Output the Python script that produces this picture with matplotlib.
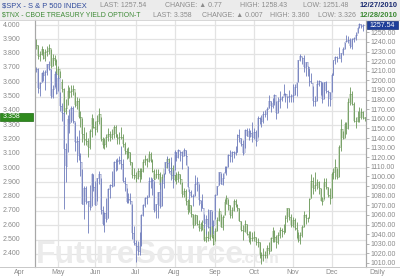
import numpy as np
import pandas as pd
import matplotlib
matplotlib.use("Agg")
import matplotlib.pyplot as plt
from matplotlib.transforms import blended_transform_factory as btf
from matplotlib.patches import Rectangle
from matplotlib.lines import Line2D

# ---------------- data ----------------
holidays = ["2010-05-31", "2010-07-05", "2010-09-06", "2010-11-25", "2010-12-24"]
all_days = pd.bdate_range("2010-04-15", "2010-12-28")
days = all_days[~all_days.isin(pd.to_datetime(holidays))]

spx_close = [
    1211.67, 1192.13, 1197.52, 1207.17, 1205.94, 1208.67, 1217.28, 1212.05, 1183.71, 1191.36, 1206.78, 1186.69,
    1202.26, 1173.60, 1165.90, 1128.15, 1110.88, 1159.73, 1155.79, 1171.67, 1157.44, 1135.68, 1136.94, 1120.80, 1115.05, 1071.59, 1087.69, 1073.65, 1074.03, 1067.95, 1103.06, 1089.41,
    1070.71, 1098.38, 1102.83, 1064.88, 1050.47, 1062.00, 1055.69, 1086.84, 1091.60, 1089.63, 1115.23, 1114.61, 1116.04, 1117.51, 1113.20, 1095.31, 1092.04, 1073.69, 1076.76, 1074.57, 1041.24, 1030.71,
    1027.37, 1022.58, 1028.06, 1060.27, 1070.25, 1077.96, 1078.75, 1095.34, 1095.17, 1096.48, 1064.88, 1071.25, 1083.48, 1069.59, 1093.67, 1102.66, 1115.01, 1113.84, 1106.13, 1101.53, 1101.60,
    1125.86, 1120.46, 1127.24, 1125.81, 1121.64, 1127.79, 1121.06, 1089.47, 1083.61, 1079.25, 1079.38, 1092.54, 1094.16, 1075.63, 1071.69, 1067.36, 1051.87, 1055.33, 1047.22, 1064.59, 1048.92, 1049.33,
    1080.29, 1090.10, 1104.51, 1091.84, 1098.87, 1104.18, 1109.55, 1121.90, 1121.10, 1125.07, 1124.66, 1125.59, 1142.71, 1139.78, 1134.28, 1124.83, 1148.67, 1142.16, 1147.70, 1144.73, 1141.20,
    1146.24, 1137.03, 1160.75, 1159.97, 1158.06, 1165.15, 1165.32, 1169.77, 1178.10, 1173.81, 1176.19, 1184.71, 1165.90, 1178.17, 1180.26, 1183.08, 1185.62, 1185.64, 1182.45, 1183.78, 1183.26,
    1184.38, 1193.57, 1197.96, 1221.06, 1225.85, 1223.25, 1213.40, 1218.71, 1213.54, 1199.21, 1197.75, 1178.34, 1178.59, 1196.69, 1199.73, 1197.84, 1180.73, 1198.35, 1189.40, 1187.76, 1180.55,
    1206.07, 1221.53, 1224.71, 1223.12, 1223.75, 1228.28, 1233.00, 1240.40, 1240.46, 1241.59, 1235.23, 1242.87, 1243.91, 1247.08, 1254.60, 1258.84, 1256.77, 1257.54,
]
spx_high = [
    1213.92, 1213.27, 1197.87, 1208.50, 1210.99, 1210.27, 1217.28, 1219.80, 1212.07, 1195.05, 1209.36, 1207.66,
    1205.13, 1187.51, 1175.95, 1167.58, 1135.13, 1163.64, 1170.48, 1173.57, 1173.57, 1157.19, 1141.82, 1148.66, 1124.27, 1107.34, 1089.95, 1090.16, 1074.03, 1090.75, 1103.52, 1103.06,
    1094.77, 1098.38, 1105.67, 1097.90, 1069.31, 1063.15, 1077.74, 1087.85, 1092.25, 1105.87, 1115.59, 1117.72, 1118.74, 1120.91, 1131.23, 1118.50, 1099.64, 1088.16, 1082.60, 1082.60, 1071.00, 1048.08,
    1033.58, 1032.95, 1042.50, 1060.60, 1071.25, 1078.16, 1080.78, 1099.08, 1099.46, 1098.43, 1094.90, 1071.25, 1083.94, 1094.25, 1097.50, 1103.11, 1115.01, 1120.95, 1114.66, 1119.95, 1106.44,
    1127.30, 1125.44, 1128.75, 1126.56, 1126.56, 1129.24, 1127.30, 1111.37, 1086.72, 1086.25, 1082.22, 1101.73, 1099.77, 1092.46, 1075.63, 1081.58, 1061.14, 1059.51, 1065.89, 1065.21, 1064.29, 1055.14,
    1081.30, 1090.10, 1105.10, 1103.11, 1103.26, 1110.88, 1110.57, 1123.87, 1127.36, 1126.46, 1126.14, 1131.47, 1144.38, 1148.90, 1139.78, 1138.30, 1148.90, 1149.92, 1150.00, 1148.63, 1157.16,
    1150.30, 1148.16, 1162.76, 1162.33, 1163.87, 1167.73, 1168.68, 1172.58, 1184.38, 1178.10, 1181.20, 1185.53, 1178.96, 1182.94, 1189.43, 1183.93, 1196.14, 1187.11, 1183.24, 1189.53, 1185.53,
    1195.81, 1195.88, 1198.30, 1221.25, 1227.08, 1224.57, 1226.84, 1218.75, 1215.45, 1213.04, 1207.43, 1194.08, 1183.56, 1200.29, 1200.57, 1198.94, 1197.84, 1198.41, 1198.94, 1189.80, 1187.40,
    1207.61, 1221.53, 1225.57, 1225.73, 1235.05, 1228.93, 1234.92, 1240.40, 1246.73, 1246.59, 1244.25, 1243.75, 1245.09, 1250.07, 1255.99, 1259.39, 1258.59, 1258.43,
]
spx_low = [
    1208.50, 1186.77, 1183.68, 1197.87, 1198.85, 1190.19, 1205.10, 1211.07, 1181.62, 1181.81, 1193.38, 1186.32,
    1188.58, 1168.12, 1157.79, 1065.79, 1094.15, 1125.12, 1145.11, 1156.57, 1156.14, 1126.14, 1114.63, 1117.20, 1100.70, 1071.58, 1055.90, 1070.84, 1040.78, 1065.52, 1069.21, 1084.72,
    1069.89, 1074.04, 1091.81, 1060.59, 1049.56, 1042.17, 1052.25, 1056.74, 1077.47, 1089.03, 1089.79, 1105.87, 1107.13, 1113.36, 1108.24, 1094.18, 1085.31, 1072.03, 1071.99, 1071.45, 1035.18, 1028.33,
    1010.91, 1018.35, 1018.35, 1028.15, 1058.35, 1068.12, 1070.98, 1078.75, 1087.68, 1080.53, 1063.32, 1056.88, 1056.88, 1067.49, 1069.54, 1088.01, 1102.66, 1109.78, 1103.28, 1096.56, 1088.01,
    1107.17, 1116.11, 1119.46, 1116.12, 1107.40, 1120.91, 1111.58, 1088.56, 1076.69, 1079.00, 1069.62, 1079.38, 1084.56, 1070.03, 1063.91, 1067.08, 1046.68, 1039.70, 1045.94, 1039.83, 1048.79, 1039.70,
    1056.16, 1080.39, 1091.15, 1091.84, 1091.15, 1103.92, 1101.02, 1109.60, 1115.44, 1114.63, 1119.69, 1122.43, 1125.59, 1136.22, 1131.58, 1122.79, 1129.66, 1141.67, 1138.14, 1140.63, 1136.08,
    1139.42, 1131.87, 1140.68, 1154.34, 1151.41, 1155.71, 1162.02, 1158.66, 1171.32, 1166.74, 1171.03, 1174.55, 1159.71, 1166.00, 1171.17, 1178.99, 1184.74, 1177.65, 1171.01, 1177.10, 1177.65,
    1177.65, 1184.38, 1183.56, 1198.34, 1220.29, 1217.31, 1208.94, 1204.49, 1204.37, 1194.08, 1197.74, 1173.00, 1173.21, 1178.59, 1194.08, 1184.29, 1176.91, 1180.74, 1186.35, 1173.64, 1173.00,
    1187.40, 1206.07, 1216.82, 1218.89, 1223.25, 1219.50, 1226.36, 1232.58, 1240.34, 1238.49, 1234.11, 1232.85, 1239.87, 1241.51, 1249.19, 1254.62, 1254.05, 1251.48,
]

tnx_close = [
    3.86, 3.78, 3.80, 3.83, 3.77, 3.81, 3.82, 3.84, 3.71, 3.77, 3.75, 3.66,
    3.69, 3.60, 3.55, 3.40, 3.42, 3.54, 3.53, 3.54, 3.55, 3.44, 3.47, 3.36, 3.36, 3.24, 3.20, 3.19, 3.15, 3.26, 3.35, 3.29,
    3.27, 3.33, 3.38, 3.20, 3.16, 3.17, 3.22, 3.24, 3.22, 3.24, 3.29, 3.24, 3.21, 3.22, 3.22, 3.17, 3.12, 3.10, 3.11, 3.04, 2.95, 2.95,
    2.93, 2.98, 2.94, 2.98, 3.04, 3.06, 3.05, 3.10, 3.05, 2.98, 2.92, 2.96, 2.96, 2.88, 2.94, 3.00, 3.01, 3.06, 3.00, 3.00, 2.92,
    2.96, 2.92, 2.96, 2.92, 2.82, 2.84, 2.77, 2.71, 2.74, 2.68, 2.60, 2.67, 2.61, 2.58, 2.61, 2.60, 2.50, 2.52, 2.51, 2.65, 2.52, 2.47,
    2.56, 2.64, 2.70, 2.59, 2.66, 2.76, 2.79, 2.74, 2.67, 2.71, 2.77, 2.74, 2.72, 2.63, 2.57, 2.56, 2.61, 2.54, 2.51, 2.51, 2.51,
    2.52, 2.48, 2.48, 2.39, 2.39, 2.39, 2.39, 2.44, 2.42, 2.51, 2.56, 2.52, 2.48, 2.53, 2.57, 2.56, 2.55, 2.65, 2.72, 2.66, 2.60,
    2.64, 2.58, 2.57, 2.50, 2.53, 2.59, 2.67, 2.65, 2.65, 2.78, 2.91, 2.86, 2.88, 2.90, 2.86, 2.77, 2.77, 2.90, 2.87, 2.81, 2.79,
    2.96, 2.97, 3.01, 2.94, 3.15, 3.27, 3.21, 3.31, 3.28, 3.46, 3.52, 3.45, 3.33, 3.33, 3.36, 3.36, 3.39, 3.35, 3.358,
]
tnx_high = [
    3.90, 3.86, 3.82, 3.85, 3.83, 3.83, 3.85, 3.87, 3.83, 3.80, 3.79, 3.76,
    3.71, 3.68, 3.62, 3.56, 3.48, 3.58, 3.57, 3.58, 3.58, 3.53, 3.50, 3.49, 3.40, 3.35, 3.29, 3.25, 3.21, 3.27, 3.38, 3.35,
    3.33, 3.37, 3.42, 3.36, 3.22, 3.21, 3.24, 3.28, 3.26, 3.27, 3.30, 3.30, 3.24, 3.25, 3.29, 3.24, 3.18, 3.14, 3.15, 3.11, 3.04, 3.00,
    2.97, 3.00, 3.00, 3.00, 3.06, 3.09, 3.07, 3.12, 3.11, 3.06, 2.99, 2.99, 2.99, 2.97, 2.96, 3.02, 3.04, 3.08, 3.07, 3.04, 3.02,
    2.99, 2.97, 2.98, 2.96, 2.90, 2.86, 2.85, 2.78, 2.78, 2.74, 2.68, 2.68, 2.67, 2.64, 2.62, 2.64, 2.58, 2.56, 2.56, 2.66, 2.63, 2.54,
    2.58, 2.66, 2.72, 2.68, 2.67, 2.78, 2.81, 2.78, 2.74, 2.73, 2.78, 2.78, 2.75, 2.72, 2.63, 2.60, 2.64, 2.61, 2.56, 2.56, 2.55,
    2.56, 2.52, 2.51, 2.48, 2.41, 2.44, 2.42, 2.46, 2.48, 2.52, 2.59, 2.57, 2.53, 2.55, 2.59, 2.58, 2.61, 2.67, 2.72, 2.72, 2.68,
    2.66, 2.65, 2.62, 2.55, 2.55, 2.60, 2.70, 2.68, 2.66, 2.79, 2.96, 2.94, 2.97, 2.92, 2.91, 2.86, 2.80, 2.93, 2.93, 2.87, 2.86,
    2.97, 3.00, 3.06, 3.00, 3.16, 3.34, 3.26, 3.32, 3.32, 3.49, 3.57, 3.54, 3.46, 3.36, 3.40, 3.43, 3.42, 3.40, 3.360,
]
tnx_low = [
    3.83, 3.76, 3.75, 3.79, 3.76, 3.75, 3.78, 3.80, 3.70, 3.71, 3.72, 3.65,
    3.63, 3.59, 3.53, 3.26, 3.38, 3.44, 3.49, 3.50, 3.51, 3.43, 3.41, 3.35, 3.29, 3.18, 3.16, 3.16, 3.08, 3.13, 3.22, 3.28,
    3.23, 3.25, 3.31, 3.19, 3.14, 3.13, 3.15, 3.19, 3.19, 3.20, 3.21, 3.22, 3.17, 3.17, 3.20, 3.15, 3.10, 3.06, 3.07, 3.02, 2.93, 2.92,
    2.90, 2.92, 2.90, 2.92, 2.97, 3.02, 3.01, 3.04, 3.04, 2.97, 2.90, 2.93, 2.92, 2.85, 2.87, 2.94, 2.98, 3.00, 2.99, 2.97, 2.90,
    2.91, 2.89, 2.90, 2.89, 2.80, 2.80, 2.74, 2.68, 2.69, 2.66, 2.58, 2.60, 2.60, 2.56, 2.56, 2.57, 2.49, 2.48, 2.49, 2.50, 2.51, 2.46,
    2.49, 2.56, 2.63, 2.59, 2.57, 2.67, 2.75, 2.71, 2.65, 2.65, 2.70, 2.73, 2.70, 2.63, 2.56, 2.50, 2.55, 2.53, 2.48, 2.47, 2.49,
    2.49, 2.46, 2.45, 2.37, 2.33, 2.35, 2.37, 2.37, 2.40, 2.42, 2.48, 2.48, 2.44, 2.47, 2.51, 2.52, 2.54, 2.55, 2.62, 2.64, 2.59,
    2.59, 2.57, 2.51, 2.48, 2.47, 2.52, 2.59, 2.61, 2.62, 2.65, 2.79, 2.82, 2.84, 2.85, 2.82, 2.77, 2.74, 2.78, 2.85, 2.80, 2.75,
    2.79, 2.92, 2.92, 2.92, 2.94, 3.12, 3.20, 3.21, 3.24, 3.27, 3.44, 3.44, 3.32, 3.28, 3.32, 3.32, 3.34, 3.34, 3.326,
]

month_labels = ["Apr", "May", "Jun", "Jul", "Aug", "Sep", "Oct", "Nov", "Dec"]
month_starts = ["2010-04-01", "2010-05-03", "2010-06-01", "2010-07-01", "2010-08-02",
                "2010-09-01", "2010-10-01", "2010-11-01", "2010-12-01"]
tnx_ticks = [2.4, 2.5, 2.6, 2.7, 2.8, 2.9, 3.0, 3.1, 3.2, 3.3, 3.4, 3.5, 3.6, 3.7, 3.8, 3.9, 4.0]
spx_ticks = list(range(1010, 1251, 10))

spx_header = ["$SPX - S & P 500 INDEX", "LAST: 1257.54", "CHANGE: \u25b2 0.77", "HIGH: 1258.43", "LOW: 1251.48", "12/27/2010"]
tnx_header = ["$TNX - CBOE TREASURY YIELD OPTION-T", "LAST: 3.358", "CHANGE: \u25b2 0.007", "HIGH: 3.360", "LOW: 3.326", "12/28/2010"]
spx_last = 1257.54
tnx_last = 3.358

# ---------------- figure ----------------
W, H = 400, 277
FAM = ["Liberation Sans", "DejaVu Sans"]
plt.rcParams["font.family"] = FAM
fig = plt.figure(figsize=(W / 100, H / 100), dpi=100)
fig.patch.set_facecolor("white")

def fx(px):
    return px / W

def fy(py):
    return 1 - py / H

L, R, T, B = 35, 366, 20, 267
ax = fig.add_axes([fx(L), fy(B), fx(R) - fx(L), fy(T) - fy(B)])
ax.set_facecolor("none")
ax2 = ax.twinx()

n_spx = len(spx_close)
n_tnx = len(tnx_close)
x_spx = np.arange(n_spx)
x_tnx = np.arange(n_tnx)
ax.set_xlim(-0.6, 178.6)
ax.set_ylim(2.308, 4.035)
ax2.set_ylim(1005.8, 1262.8)

# grid
ax.set_yticks(tnx_ticks)
ax.yaxis.set_ticklabels([])
ax.tick_params(axis="y", length=0)
grid_c = "#e3e3e3"
for v in tnx_ticks:
    ax.axhline(v, color=grid_c, lw=0.9, zorder=0.5)
start_idx = [int(np.searchsorted(days, pd.Timestamp(d))) - (9 if i == 0 else 0) for i, d in enumerate(month_starts)]
for i in start_idx[1:]:
    ax.axvline(i, color=grid_c, lw=0.9, zorder=0.5)
ax.set_xticks([])
for s in ["top", "bottom"]:
    ax.spines[s].set_visible(False)
    ax2.spines[s].set_visible(False)
for a in (ax, ax2):
    a.spines["left"].set_color("#a8a8a8")
    a.spines["right"].set_color("#a8a8a8")
    a.spines["left"].set_linewidth(0.8)
    a.spines["right"].set_linewidth(0.8)

# watermark
ax.text(fx(36), fy(263), "FutureSource", transform=fig.transFigure, fontsize=23,
        fontweight="bold", color="#ebebeb", ha="left", va="baseline", zorder=0.8)
ax.text(fx(241), fy(263), ".com", transform=fig.transFigure, fontsize=12,
        fontweight="bold", color="#ebebeb", ha="left", va="baseline", zorder=0.8)

def draw_ohlc(a, x, hi, lo, cl, dark, light):
    cl = np.asarray(cl)
    op = np.concatenate([[cl[0]], cl[:-1]])
    a.bar(x, cl - op, bottom=op, width=1.0, color=light, linewidth=0, zorder=1.5)
    a.vlines(x, lo, hi, color=dark, lw=0.6, zorder=2)
    a.hlines(cl, x, x + 0.5, color=dark, lw=0.6, zorder=2)

draw_ohlc(ax, x_tnx, tnx_high, tnx_low, tnx_close, "#6a9858", "#d0ddc9")
draw_ohlc(ax2, x_spx, spx_high, spx_low, spx_close, "#6e7cbc", "#cdd1e6")

# right axis labels
ax2.set_yticks(spx_ticks)
ax2.set_yticklabels([f"{v:.2f}" for v in spx_ticks])
ax2.tick_params(axis="y", length=2, width=0.6, color="#a8a8a8", pad=1, labelsize=5, labelcolor="#8a8a8a")

# left axis labels
tl = btf(fig.transFigure, ax.transData)
for v in tnx_ticks:
    ax.text(fx(3), v, f"{v:.3f}", transform=tl, fontsize=5, color="#8a8a8a",
            ha="left", va="center", clip_on=False)

# last value boxes
ax.add_patch(Rectangle((0, tnx_last - 0.026), fx(33), 0.052, transform=tl,
                       facecolor="#2f8a1e", edgecolor="#1d6a10", lw=0.5, clip_on=False, zorder=5))
ax.text(fx(3), tnx_last, f"{tnx_last:.3f}", transform=tl, fontsize=5, color="white",
        ha="left", va="center", clip_on=False, zorder=6)
tr = btf(fig.transFigure, ax2.transData)
ax2.add_patch(Rectangle((fx(367), spx_last - 4.2), fx(31), 8.4, transform=tr,
                        facecolor="#1f3f99", edgecolor="#16307a", lw=0.5, clip_on=False, zorder=5))
ax2.text(fx(369), spx_last, f"{spx_last:.2f}", transform=tr, fontsize=5, color="white",
         ha="left", va="center", clip_on=False, zorder=6)

# x labels
tx = btf(ax.transData, fig.transFigure)
for lab, i in zip(month_labels, start_idx):
    ax.text(i, fy(272), lab, transform=tx, fontsize=5, color="#8a8a8a",
            ha="center", va="center", clip_on=False)
fig.text(fx(377), fy(272), "Daily", fontsize=5, color="#8a8a8a", ha="center", va="center")
fig.add_artist(Line2D([0, 1], [fy(B), fy(B)], transform=fig.transFigure, color="#c8c8c8", lw=0.7))

# header
fig.add_artist(Rectangle((0, fy(10.5)), 1, fy(0) - fy(10.5), transform=fig.transFigure,
                         facecolor="#ebebeb", edgecolor="none", zorder=0))
fig.add_artist(Rectangle((0, fy(20)), 1, fy(10.5) - fy(20), transform=fig.transFigure,
                         facecolor="#eeeeee", edgecolor="none", zorder=0))
fig.add_artist(Line2D([0, 1], [fy(20), fy(20)], transform=fig.transFigure, color="#d0d0d0", lw=0.6))

x1 = [2, 100, 165, 240, 303, 360]
x2 = [2, 153, 202, 270, 318, 360]
for k, (t, xp) in enumerate(zip(spx_header, x1)):
    col = "#2f4a9c" if k == 0 else ("#1a2a70" if k == 5 else "#8c8c8c")
    fs = 5.4 if k in (0, 5) else 5
    fw = "bold" if k == 5 else "normal"
    fig.text(fx(xp), fy(5.5), t, fontsize=fs, color=col, ha="left", va="center", fontweight=fw)
for k, (t, xp) in enumerate(zip(tnx_header, x2)):
    col = "#3d8a35" if k in (0, 5) else "#8c8c8c"
    fs = {0: 4.95, 5: 5.4}.get(k, 5)
    fw = "bold" if k == 5 else "normal"
    fig.text(fx(xp), fy(15.3), t, fontsize=fs, color=col, ha="left", va="center", fontweight=fw)

fig.savefig("out.png", dpi=100)
